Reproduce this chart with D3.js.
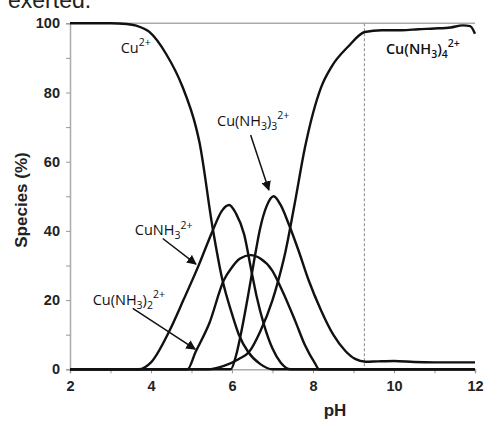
<!DOCTYPE html>
<html>
<head>
<meta charset="utf-8">
<script src="https://cdn.jsdelivr.net/npm/d3@7"></script>
<style>
  body { margin: 0; background: #fff; }
  svg { display: block; }
</style>
</head>
<body>
<div id="chart"></div>
<script>
// Cu(II)-ammonia species distribution, values as [pH, %]
const cu2 = [[2,100],[3,100],[3.4,99.8],[3.64,99.3],[3.96,97.5],[4.37,91.2],[4.78,81.6],[5.11,70],[5.19,66],
  [5.52,41],[5.76,26],[6.0,16],[6.17,10],[6.4,5],[6.7,1.5],[7.0,0],[12,0]];
const cuNH3 = [[2,0],[3.7,0],[4.0,2],[4.45,11],[4.8,20],[5.19,30.4],[5.52,40],[5.75,45.8],[5.93,47.5],
  [6.1,45],[6.3,39],[6.47,29],[6.6,21.5],[6.8,12.5],[7.0,6],[7.2,2],[7.45,0],[12,0]];
const cuNH3_2 = [[2,0],[4.9,0],[5.1,5],[5.44,13.3],[5.8,25.8],[6.0,29.5],[6.2,32],[6.46,33],[6.7,32],
  [6.99,28.6],[7.23,23],[7.56,14],[7.8,7],[8.05,1.7],[8.15,0],[12,0]];
const cuNH3_3 = [[2,0],[5.97,0],[6.1,4],[6.25,12],[6.4,21.5],[6.54,31],[6.7,41],[6.85,47],[7.03,50],
  [7.2,47.5],[7.4,42],[7.64,34.4],[7.89,25.8],[8.2,17],[8.5,10],[8.8,5.3],[9.04,3],[9.3,2.2],[9.6,2.3],
  [10,2.4],[10.5,2.1],[11,2],[12,2]];
const cuNH3_4 = [[2,0],[5.4,0],[5.8,1],[6.17,3],[6.42,5],[6.7,11],[7.0,20],[7.15,26],[7.32,34],[7.55,48],
  [7.8,64],[8.0,74],[8.2,81.5],[8.46,87.5],[8.87,93.3],[9.28,97.5],[9.7,98],[10.2,98],[10.6,98.3],[11,98.5],
  [11.4,98.8],[11.7,99.4],[11.88,99.2],[12,97]];

const xTicks = [2,3,4,5,6,7,8,9,10,11,12];
const yTicks = [0,10,20,30,40,50,60,70,80,90,100];
const dashedPH = 9.27;

// species labels: [pH, %] of text baseline start, parts with sub/superscripts
const labels = [
  { at: [3.25, 91.5], weight: 400, parts: [["Cu"], ["2+", "sup"]] },
  { at: [9.8, 91.2], weight: 600, parts: [["Cu(NH"], ["3", "sub"], [")"], ["4", "sub"], ["2+", "sup"]] },
  { at: [5.63, 70.4], weight: 400, parts: [["Cu(NH"], ["3", "sub"], [")"], ["3", "sub"], ["2+", "sup"]] },
  { at: [3.6, 38.8], weight: 400, parts: [["CuNH"], ["3", "sub"], ["2+", "sup"]] },
  { at: [2.56, 18.6], weight: 400, parts: [["Cu(NH"], ["3", "sub"], [")"], ["2", "sub"], ["2+", "sup"]] }
];
// arrows: from [pH,%] to [pH,%]
const arrows = [
  [[6.46, 67.7], [6.91, 51.8]],
  [[4.29, 37.8], [5.11, 30.4]],
  [[3.55, 17.6], [5.09, 5.8]]
];

const width = 486, height = 421;
const x = d3.scaleLinear().domain([2, 12]).range([70, 475]);
const y = d3.scaleLinear().domain([0, 100]).range([369.3, 23.3]);

const svg = d3.select("#chart").append("svg")
  .attr("width", width)
  .attr("height", height)
  .style("font-family", "'Liberation Sans', Arial, sans-serif");

svg.append("defs").append("marker")
  .attr("id", "arrow")
  .attr("viewBox", "0 0 10 10")
  .attr("refX", 9).attr("refY", 5)
  .attr("markerWidth", 6.5).attr("markerHeight", 6.5)
  .attr("orient", "auto")
  .append("path")
  .attr("d", "M0,0 L10,5 L0,10 z")
  .attr("fill", "#111");

// cut-off caption text above the figure
svg.append("text")
  .attr("x", 8).attr("y", 8)
  .style("font-size", "23px")
  .attr("fill", "#222")
  .text("exerted.");

// top frame line
svg.append("line")
  .attr("x1", x(2)).attr("x2", x(12))
  .attr("y1", y(100)).attr("y2", y(100))
  .attr("stroke", "#aaa").attr("stroke-width", 1.5);

const yAxis = svg.append("g")
  .attr("transform", `translate(${x(2)},0)`)
  .call(d3.axisLeft(y).tickValues(yTicks).tickSize(4).tickPadding(6)
    .tickFormat(d => d % 20 === 0 ? d : ""));

const xAxis = svg.append("g")
  .attr("transform", `translate(0,${y(0)})`)
  .call(d3.axisBottom(x).tickValues(xTicks).tickSize(4).tickPadding(7)
    .tickFormat(d => d % 2 === 0 ? d : ""));

[yAxis, xAxis].forEach(g => {
  g.select(".domain").attr("stroke", "#aaa").attr("stroke-width", 1.5);
  g.selectAll(".tick line").attr("stroke", "#999");
  g.selectAll(".tick text")
    .attr("fill", "#222")
    .style("font-size", "14.5px")
    .style("font-weight", "bold");
});

// dashed reference line
svg.append("line")
  .attr("x1", x(dashedPH)).attr("x2", x(dashedPH))
  .attr("y1", y(100)).attr("y2", y(0))
  .attr("stroke", "#999").attr("stroke-width", 1.2)
  .attr("stroke-dasharray", "3,2");

const line = d3.line()
  .x(d => x(d[0]))
  .y(d => y(d[1]))
  .curve(d3.curveMonotoneX);

svg.selectAll(".species")
  .data([cu2, cuNH3, cuNH3_2, cuNH3_3, cuNH3_4])
  .join("path")
  .attr("class", "species")
  .attr("fill", "none")
  .attr("stroke", "#111")
  .attr("stroke-width", 2.4)
  .attr("d", line);

svg.selectAll(".arrow")
  .data(arrows)
  .join("line")
  .attr("class", "arrow")
  .attr("x1", d => x(d[0][0])).attr("y1", d => y(d[0][1]))
  .attr("x2", d => x(d[1][0])).attr("y2", d => y(d[1][1]))
  .attr("stroke", "#111")
  .attr("stroke-width", 1.5)
  .attr("marker-end", "url(#arrow)");

const lab = svg.selectAll(".label")
  .data(labels)
  .join("text")
  .attr("class", "label")
  .attr("x", d => x(d.at[0]))
  .attr("y", d => y(d.at[1]))
  .attr("fill", "#111")
  .style("font-family", "'Open Sans', sans-serif")
  .style("font-size", "14.5px")
  .style("font-weight", d => d.weight);

lab.each(function(d) {
  const t = d3.select(this);
  let shift = 0;
  d.parts.forEach(([s, kind]) => {
    const target = kind === "sub" ? 4 : kind === "sup" ? -6.5 : 0;
    t.append("tspan")
      .attr("dy", target - shift)
      .style("font-size", kind ? "10.5px" : null)
      .text(s);
    shift = target;
  });
});

// axis titles
svg.append("text")
  .attr("transform", "translate(27,200) rotate(-90)")
  .attr("text-anchor", "middle")
  .attr("fill", "#222")
  .style("font-size", "17px")
  .style("font-weight", "bold")
  .text("Species (%)");

svg.append("text")
  .attr("x", 335).attr("y", 416)
  .attr("text-anchor", "middle")
  .attr("fill", "#222")
  .style("font-size", "17px")
  .style("font-weight", "bold")
  .text("pH");
</script>
</body>
</html>
